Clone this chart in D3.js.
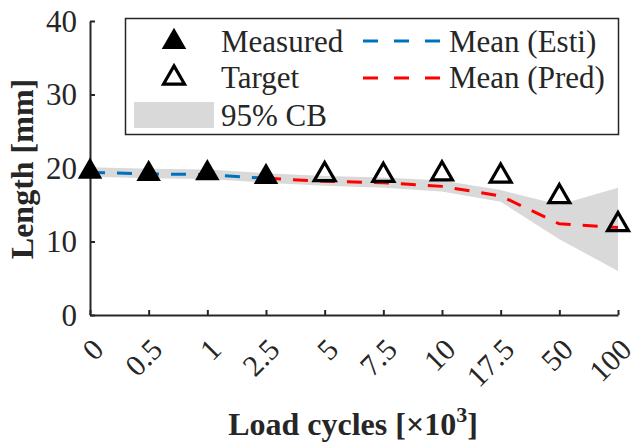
<!DOCTYPE html>
<html><head><meta charset="utf-8">
<script src="https://cdn.jsdelivr.net/npm/d3@7"></script>
<style>body{margin:0;background:#fff}svg{display:block}text{font-family:"Liberation Serif","Times New Roman",serif;fill:#262626}</style>
</head><body>
<svg id="c" width="638" height="448"></svg>
<script>
const categories = ["0","0.5","1","2.5","5","7.5","10","17.5","50","100"];
const yTicks = [0,10,20,30,40];
const measured = [19.5,19.2,19.3,18.8];          // first 4 categories
const target = [19.1,19.0,19.2,18.9,16.1,12.3];  // categories 4..9
const meanEsti = [19.4,19.2,19.1,18.6];          // categories 0..3
const meanPred = [18.6,18.2,18.0,17.5,16.2,12.4,11.9]; // categories 3..9
const cbUpper = [20.1,19.9,19.8,19.3,18.9,18.7,18.3,17.0,15.0,17.3];
const cbLower = [18.8,18.6,18.5,18.0,17.6,17.3,16.8,15.4,10.3,6.0];

const svg = d3.select("#c");
const x = d3.scalePoint().domain(categories).range([90,618]);
const y = d3.scaleLinear().domain([0,40]).range([315,21]);
const axisCol = "#262626";

// band
const area = d3.area().x((d,i)=>x(categories[i])).y0((d,i)=>y(cbLower[i])).y1(d=>y(d));
svg.append("path").datum(cbUpper).attr("d",area).attr("fill","#d9d9d9");

// lines
const line = d3.line().x(d=>x(d.c)).y(d=>y(d.v));
const estiData = meanEsti.map((v,i)=>({c:categories[i],v}));
const predData = meanPred.map((v,i)=>({c:categories[i+3],v}));
svg.append("path").datum(estiData).attr("d",line).attr("fill","none")
  .attr("stroke","#0072BD").attr("stroke-width",3).attr("stroke-dasharray","15,12");
svg.append("path").datum(predData).attr("d",line).attr("fill","none")
  .attr("stroke","#FF0000").attr("stroke-width",3).attr("stroke-dasharray","15,12");

// axes
const gx = svg.append("g").attr("transform","translate(0,315)")
  .call(d3.axisBottom(x).tickSizeInner(-5).tickSizeOuter(0).tickFormat(""));
const gy = svg.append("g").attr("transform","translate(90,0)")
  .call(d3.axisLeft(y).tickValues(yTicks).tickSizeInner(-5).tickSizeOuter(0).tickFormat(""));
[gx,gy].forEach(g=>{g.select(".domain").attr("stroke",axisCol).attr("stroke-width",2);
  g.selectAll(".tick line").attr("stroke",axisCol).attr("stroke-width",2);});

// y tick labels
svg.selectAll(".ylab").data(yTicks).enter().append("text")
  .attr("x",77).attr("y",d=>y(d)).attr("dy","0.35em").attr("text-anchor","end")
  .attr("font-size",31).text(d=>d);
// x tick labels
svg.selectAll(".xlab").data(categories).enter().append("text")
  .attr("transform",d=>`translate(${x(d)+8},344) rotate(-45)`)
  .attr("dy","0.35em").attr("text-anchor","end").attr("font-size",30).text(d=>d);

// markers
const triF = d3.symbol().type(d3.symbolTriangle).size(260);
const triO = d3.symbol().type(d3.symbolTriangle).size(190);
svg.selectAll(".m").data(measured).enter().append("path")
  .attr("d",triF).attr("transform",(d,i)=>`translate(${x(categories[i])},${y(d)})`)
  .attr("fill","#000");
svg.selectAll(".t").data(target).enter().append("path")
  .attr("d",triO).attr("transform",(d,i)=>`translate(${x(categories[i+4])},${y(d)})`)
  .attr("fill","none").attr("stroke","#000").attr("stroke-width",3.2);

// axis titles
svg.append("text").attr("transform","translate(33,169) rotate(-90)")
  .attr("text-anchor","middle").attr("font-size",32).attr("font-weight","bold").text("Length [mm]");
const xt = svg.append("text").attr("x",353).attr("y",435).attr("text-anchor","middle")
  .attr("font-size",32).attr("font-weight","bold");
xt.append("tspan").text("Load cycles [×10");
xt.append("tspan").attr("dy",-13).attr("font-size",22).text("3");
xt.append("tspan").attr("dy",13).text("]");

// legend
const lg = svg.append("g");
lg.append("rect").attr("x",125.5).attr("y",18.5).attr("width",493).attr("height",116)
  .attr("fill","#fff").attr("stroke",axisCol).attr("stroke-width",1.5);
lg.append("path").attr("d",triF).attr("transform","translate(174,42)").attr("fill","#000");
lg.append("path").attr("d",triO).attr("transform","translate(174,78)")
  .attr("fill","none").attr("stroke","#000").attr("stroke-width",3.2);
lg.append("rect").attr("x",134).attr("y",102).attr("width",80).attr("height",26).attr("fill","#d9d9d9");
const legTexts = [["Measured",221,52],["Target",221,88],["95% CB",221,126],["Mean (Esti)",449,52],["Mean (Pred)",449,88]];
legTexts.forEach(t=>lg.append("text").attr("x",t[1]).attr("y",t[2]).attr("font-size",31).text(t[0]));
[["#0072BD",41],["#FF0000",78]].forEach(l=>lg.append("line").attr("x1",363).attr("x2",443)
  .attr("y1",l[1]).attr("y2",l[1]).attr("stroke",l[0]).attr("stroke-width",3).attr("stroke-dasharray","15,16"));
</script>
</body></html>
